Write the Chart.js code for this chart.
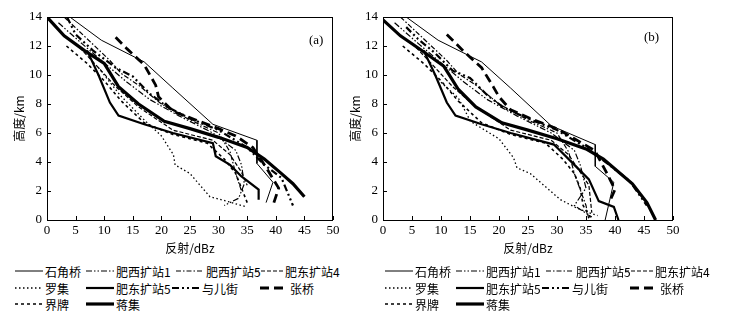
<!DOCTYPE html>
<html>
<head>
<meta charset="utf-8">
<script src="https://cdn.jsdelivr.net/npm/chart.js@4/dist/chart.umd.min.js"></script>
<style>
  body { margin: 0; background: #fff; width: 730px; height: 330px; position: relative; overflow: hidden; font-family: "Noto Sans CJK SC", sans-serif; }
  canvas { position: absolute; top: 0; }
  .tag { position: absolute; font-family: "Liberation Serif", serif; font-size: 13px; color: #000; }
  .item { position: absolute; display: flex; align-items: center; white-space: nowrap; font-size: 12px; color: #000; height: 14px; }
  .item svg { margin-right: 2px; }
</style>
</head>
<body>
<canvas id="chartA" width="350" height="260" style="left:0"></canvas>
<canvas id="chartB" width="360" height="260" style="left:336px"></canvas>
<div class="tag" style="left:309px;top:32px">(a)</div>
<div class="tag" style="left:644px;top:29px">(b)</div>
<div id="legend"></div>
<script>
// station names, in legend order
const names = ["石角桥", "肥西扩站1", "肥西扩站5", "肥东扩站4", "罗集", "肥东扩站5", "与儿街", "张桥", "界牌", "蒋集"];

// ---- panel (a): [reflectivity dBz, height km]
const shijiaoqiaoA = [[4, 14], [9.5, 12.4], [17, 10.9], [22, 9.1], [29, 6.6], [36.7, 5.5], [36.7, 3.9], [39.5, 2.6], [38.3, 1.2]];
const feixi1A = [[2, 13.6], [6, 12.2], [11, 10.5], [14, 9.5], [18, 8.3], [23, 7.2], [29, 6.0], [33, 4.8], [34, 3.8], [34.5, 2.5], [33.5, 1.5], [31, 1.0]];
const feixi5A = [[3, 14], [7, 12.5], [11, 11], [13, 10.1], [16, 9.3], [20, 8.0], [25, 6.9], [30, 6.0], [32, 4.7], [33, 3.2], [34, 2.0]];
const feidong4A = [[5, 12.2], [9, 10.5], [12, 9.2], [16, 7.8], [22, 6.2], [29, 5.5], [32, 4.5], [34, 3.3], [35, 2.4]];
const luojiA = [[9, 10.5], [12.8, 8.6], [17, 6.9], [20, 5.8], [22.1, 4.5], [22.4, 3.8], [25, 3.2], [28.5, 1.6], [31.4, 1.3], [34.9, 0.9]];
const feidong5A = [[7, 11.7], [9, 10], [11, 8.1], [12.5, 7.2], [17, 6.6], [22, 6.0], [29, 5.3], [29.5, 4.4], [32, 3.8], [34, 3.0], [37, 2.1], [37, 1.4]];
const yuerjieA = [[3.5, 14], [5, 12.8], [8, 11.7], [12, 10.5], [15, 9.9], [18, 8.7], [21, 7.8], [25, 7.0], [30, 6.2], [35, 5.0], [38, 3.8], [41, 2.9], [43, 1.0]];
const zhangqiaoA = [[12, 12.6], [14, 11.8], [17, 10.7], [19, 9.3], [19.5, 8.5], [22, 7.5], [26, 6.9], [30, 6.3], [33, 5.8], [36, 5.0], [38.5, 3.5], [40.5, 2.2], [39.5, 1.0]];
const jiepaiA = [[3.4, 12], [7, 10.8], [10, 9.6], [13, 8.2], [17, 6.7], [22, 5.9], [28, 5.3], [31, 4.2], [33, 3.2], [34, 2.2], [35, 1.2]];
const jiangjiA = [[0, 14], [3, 12.7], [6.5, 11.7], [10, 10.8], [12.5, 9.2], [16, 8.0], [20.5, 6.8], [25, 6.3], [30, 5.7], [35, 5.0], [38, 4.2], [41, 3.2], [43, 2.5], [45, 1.6]];

// ---- panel (b)
const shijiaoqiaoB = [[4, 14], [9.5, 12.4], [17, 10.9], [22, 9.1], [29, 6.5], [36.6, 5.2], [36.6, 3.7], [39.8, 2.6], [38.3, 0]];
const feixi1B = [[2, 13.6], [6, 12.2], [11, 10.5], [14, 9.5], [18, 8.3], [23, 7.2], [29, 6.0], [33, 4.8], [34, 3.8], [35, 2.2], [33, 1.0], [36, 0.2]];
const feixi5B = [[3, 14], [7, 12.5], [11, 11], [13, 10.1], [16, 9.3], [20, 8.0], [25, 6.9], [30, 6.0], [32, 4.7], [33, 3.2], [35, 1.0], [35.5, 0]];
const feidong4B = [[5, 12.2], [9, 10.5], [12, 9.2], [16, 7.8], [22, 6.2], [29, 5.5], [32, 4.5], [34, 3.3], [35.5, 2.4], [36, 0.5]];
const luojiB = [[10, 9.5], [13, 8.4], [15.1, 6.8], [20, 5.6], [22.5, 4.3], [23.1, 3.6], [25.4, 3.2], [30.6, 1.4], [33.5, 0.8], [37, 0.3]];
const feidong5B = [[7, 11.7], [9, 10], [11, 8.1], [12.5, 7.2], [17, 6.6], [22, 6.0], [29.5, 5.2], [30, 5.0], [33, 3.8], [35.5, 2.8], [37.2, 1.3], [39.8, 0.9], [40.6, 0]];
const yuerjieB = [[4, 13.3], [6, 12.5], [9, 11.5], [12, 10.3], [15, 9.8], [18, 8.6], [21, 7.7], [25, 7.0], [30, 6.2], [35, 5.0], [39, 3.8], [42.5, 2.7], [45.5, 1.0]];
const zhangqiaoB = [[11, 12.8], [14, 11.6], [17, 10.5], [19, 9.2], [20, 8.5], [22, 7.6], [26, 6.9], [30, 6.3], [33, 5.6], [36.5, 4.8], [38.5, 3.3], [40, 2.1], [39, 1.2]];
const jiepaiB = [[3.4, 12], [7, 10.8], [10, 9.6], [13, 8.2], [17, 6.7], [22, 5.9], [28, 5.3], [31, 4.2], [33, 3.2], [34, 2.2], [34.5, 1.0], [36, 0]];
const jiangjiB = [[0, 13.8], [3, 12.7], [7, 11.6], [10.5, 10.6], [13, 9.0], [16, 7.8], [20.5, 6.7], [25, 6.2], [30, 5.6], [35, 4.9], [38, 4.2], [43, 2.5], [45.5, 1.2], [47, 0]];

const xTicks = [0, 5, 10, 15, 20, 25, 30, 35, 40, 45, 50];
const yTicks = [0, 2, 4, 6, 8, 10, 12, 14];

// line styles per station (same order as names)
const widths = [1, 1.2, 1.2, 1.2, 1.3, 2.2, 2.2, 2.8, 1.6, 3.2];
const dashes = [[], [6, 2, 1.5, 2, 1.5, 2], [5, 2, 1.5, 2], [4, 2], [1.5, 2.5], [], [7, 3, 2, 3, 2, 3], [9, 5], [3, 3], []];

// inward ticks + frame box
const frame = {
  id: "frame",
  afterDraw(chart) {
    const { ctx, chartArea: a, scales } = chart;
    ctx.save();
    ctx.strokeStyle = "#000";
    ctx.lineWidth = 1;
    ctx.strokeRect(a.left + 0.5, a.top + 0.5, a.right - a.left - 1, a.bottom - a.top);
    ctx.beginPath();
    xTicks.forEach(v => {
      const px = Math.round(scales.x.getPixelForValue(v)) + 0.5;
      ctx.moveTo(px, a.bottom); ctx.lineTo(px, a.bottom - 4);
    });
    yTicks.forEach(v => {
      const py = Math.round(scales.y.getPixelForValue(v)) + 0.5;
      ctx.moveTo(a.left, py); ctx.lineTo(a.left + 4, py);
    });
    ctx.stroke();
    ctx.restore();
  }
};

function makeChart(id, sets, padRight) {
  return new Chart(document.getElementById(id), {
    type: "scatter",
    data: {
      datasets: names.map((n, i) => ({
        label: n,
        data: sets[i].map(p => ({ x: p[0], y: p[1] })),
        showLine: true,
        borderColor: "#000",
        borderWidth: widths[i],
        borderDash: dashes[i],
        pointRadius: 0,
        fill: false,
        tension: 0
      }))
    },
    options: {
      responsive: false,
      animation: false,
      events: [],
      layout: { padding: { top: 17, right: padRight, left: 0, bottom: 0 } },
      plugins: { legend: { display: false }, tooltip: { enabled: false } },
      scales: {
        x: {
          type: "linear", min: 0, max: 50,
          afterBuildTicks: s => { s.ticks = xTicks.map(v => ({ value: v })); },
          ticks: { color: "#000", font: { family: "Liberation Serif", size: 13 }, padding: 3, maxRotation: 0 },
          grid: { display: false, drawTicks: false },
          border: { display: false },
          title: { display: true, text: "反射/dBz", color: "#000", font: { family: "Noto Sans CJK SC", size: 12 }, padding: { top: 2, bottom: 4 } },
          afterFit: s => { s.height = 40; }
        },
        y: {
          type: "linear", min: 0, max: 14,
          afterBuildTicks: s => { s.ticks = yTicks.map(v => ({ value: v })); },
          ticks: { color: "#000", font: { family: "Liberation Serif", size: 13 }, padding: 5 },
          grid: { display: false, drawTicks: false },
          border: { display: false },
          title: { display: true, text: "高度/km", color: "#000", font: { family: "Noto Sans CJK SC", size: 12 }, padding: { top: 12, bottom: 0 } },
          afterFit: s => { s.width = 47; }
        }
      }
    },
    plugins: [frame]
  });
}

makeChart("chartA", [shijiaoqiaoA, feixi1A, feixi5A, feidong4A, luojiA, feidong5A, yuerjieA, zhangqiaoA, jiepaiA, jiangjiA], 17);
makeChart("chartB", [shijiaoqiaoB, feixi1B, feixi5B, feidong4B, luojiB, feidong5B, yuerjieB, zhangqiaoB, jiepaiB, jiangjiB], 23);

// legends under each panel
const rowY = [264, 281, 297];
const slots = [[0, 15, 0], [1, 86, 0], [2, 176, 0], [3, 255, 0], [4, 15, 1], [5, 86, 1], [6, 172, 1], [7, 260, 1], [8, 15, 2], [9, 86, 2]];
const legend = document.getElementById("legend");
[0, 370].forEach(off => {
  slots.forEach(([i, x, r]) => {
    const d = document.createElement("div");
    d.className = "item";
    d.style.left = (x + off) + "px";
    d.style.top = rowY[r] + "px";
    const w = 28;
    d.innerHTML = '<svg width="' + w + '" height="8"><line x1="0" y1="4" x2="' + w + '" y2="4" stroke="#000" stroke-width="' +
      widths[i] + '" stroke-dasharray="' + (dashes[i].length ? dashes[i].join(" ") : "none") + '"/></svg><span>' + names[i] + "</span>";
    legend.appendChild(d);
  });
});
</script>
</body>
</html>
